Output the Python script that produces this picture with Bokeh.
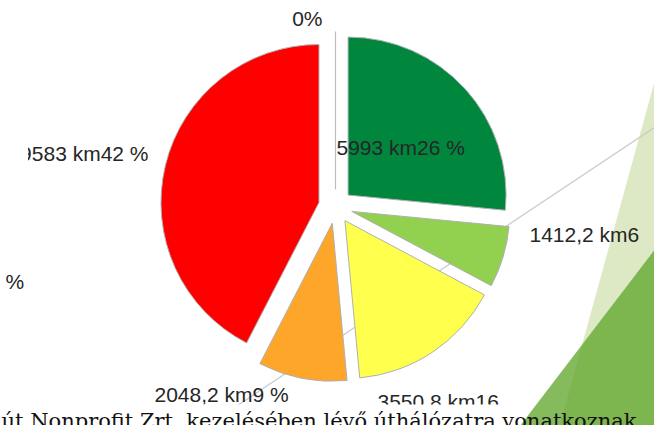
import numpy as np
from bokeh.plotting import figure
from bokeh.models import Range1d, ColumnDataSource
from bokeh.core.properties import value
from bokeh.embed import file_html
from bokeh.resources import INLINE

# ---------------- data ----------------
lengths_km = [5993, 1412.2, 3550.8, 2048.2, 9583, 0]
percents = [26, 6, 16, 9, 42, 0]
data_labels = ["5993 km26 %", "1412,2 km6", "3550,8 km16", "2048,2 km9 %", "9583 km42 %", "0%"]
stray_label = "%"
footnote = "út Nonprofit Zrt. kezelésében lévő úthálózatra vonatkoznak."

# ---------------- style / layout ----------------
slice_colors = ["#00873d", "#92d050", "#ffff4d", "#fea62a", "#ff0000", "#bdbdbd"]
label_pos = [(336, 147, "left"), (529, 234, "left"), (377, 400.5, "left"),
             (154, 394, "left"), (148, 153, "right"), (322, 17.5, "right")]
CX, CY, R, EXPLODE = 335.0, 206.0, 158.0, 17.0  # pie centre (page px), radius, explode

W, H = 654, 425
def Y(y):  # page pixel row -> data y (up)
    return 425 - y

p = figure(width=W, height=H, x_range=Range1d(0, W), y_range=Range1d(0, H),
           x_axis_type=None, y_axis_type=None, toolbar_location=None,
           output_backend="svg", min_border=0, outline_line_color=None,
           background_fill_color="white", border_fill_color="white")
p.grid.visible = False

# decorative slide triangles
p.patch([558, 662, 662], [Y(430), Y(52), Y(430)], fill_color="#dde9c5", line_color=None)
p.patch([516, 662, 662], [Y(430), Y(239), Y(430)], fill_color="#5ea42a", fill_alpha=0.76, line_color=None)

# leader line (under slices)
x0, x1 = 230, 662
p.line([x0, x1], [Y(405 + (237 - x0) * 0.667), Y(405 + (237 - x1) * 0.667)],
       line_color="#c9c9c9", line_width=1.2)

# slices
vals = np.array(lengths_km, dtype=float)
total = vals.sum()
cum = np.concatenate([[0], np.cumsum(vals)]) / total * 360.0
wx, wy, sa, ea, cols = [], [], [], [], []
for i, v in enumerate(vals):
    t0, t1 = cum[i], cum[i + 1]
    mid = np.radians((t0 + t1) / 2)
    cx = CX + EXPLODE * np.sin(mid)
    cy = CY - EXPLODE * np.cos(mid)
    if v > 0:
        wx.append(cx); wy.append(Y(cy))
        sa.append(np.radians(90 - t0)); ea.append(np.radians(90 - t1))
        cols.append(slice_colors[i])
    else:
        a = np.radians(t0)
        p.line([cx, cx + R * np.sin(a)], [Y(cy), Y(cy - R * np.cos(a))],
               line_color=slice_colors[i], line_width=1.2)

src = ColumnDataSource(dict(x=wx, y=wy, sa=sa, ea=ea, c=cols))
p.wedge(x="x", y="y", radius=R, start_angle="sa", end_angle="ea", direction="clock",
        fill_color="c", line_color="#b0b0b0", line_width=1, source=src)

# data labels
for txt, (lx, ly, al) in zip(data_labels, label_pos):
    p.text(x=[lx], y=[Y(ly)], text=[txt], text_font=value("Liberation Sans"),
           text_font_size="21px", text_color="#262626", text_align=al,
           text_baseline="middle")
p.text(x=[5], y=[Y(281)], text=[stray_label], text_font=value("Liberation Sans"),
       text_font_size="21px", text_color="#262626", text_align="left", text_baseline="middle")

# masks (clipped label edge, footnote box)
p.quad(left=[0], right=[27.5], bottom=[Y(168)], top=[Y(140)], fill_color="white", line_color=None)
p.quad(left=[0], right=[516], bottom=[Y(430)], top=[Y(404)], fill_color="white", line_color=None)

# footnote
p.text(x=[1], y=[Y(420)], text=[footnote], text_font=value("DejaVu Serif"),
       text_font_size="21px", text_color="#111111", text_align="left", text_baseline="alphabetic")

open("out.html", "w").write(file_html(p, INLINE))
